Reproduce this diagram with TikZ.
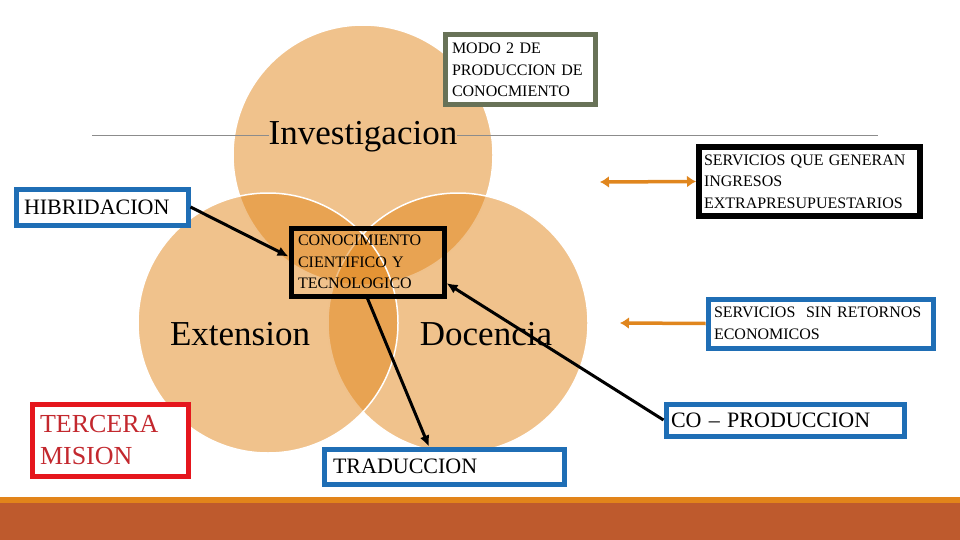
\documentclass[tikz,border=0pt]{standalone}
\usepackage{fontspec}
\setmainfont{Liberation Serif}
\usetikzlibrary{arrows.meta,positioning,calc}

\definecolor{ringfill}{HTML}{E18519}
\definecolor{modogreen}{HTML}{687257}
\definecolor{boxblue}{HTML}{1F6EB5}
\definecolor{boxred}{HTML}{E5161D}
\definecolor{textred}{HTML}{C3282E}
\definecolor{linkorange}{HTML}{E0861E}
\definecolor{barorange}{HTML}{E2841A}
\definecolor{barrust}{HTML}{BE5A2D}
\definecolor{rulegray}{HTML}{8C8C8C}

\begin{document}
\begin{tikzpicture}[
  x=1pt,y=-1pt,
  ring/.style={fill=ringfill, fill opacity=0.5, draw=white, line width=1.5pt},
  ringlabel/.style={font=\fontsize{35}{40}\selectfont, anchor=base, inner sep=0pt},
  tag/.style={draw, line width=5pt, fill=white, align=left, inner ysep=2pt},
  smalltag/.style={font=\fontsize{16}{21.5}\selectfont},
  bigtag/.style={font=\fontsize{22}{26}\selectfont},
  link/.style={-{Latex[length=11pt,width=10pt]}, draw=black, line width=3pt},
  orangelink/.style={draw=linkorange, line width=3.5pt},
  otip/.tip={Latex[length=9pt,width=12pt]},
  rule/.style={draw=rulegray, line width=1pt}
]
  \useasboundingbox (0,0) rectangle (960,540);

  % three rings
  \draw[ring] (363,155) circle[radius=130pt];
  \draw[ring] (458,323) circle[radius=130pt];
  \draw[ring] (268,323) circle[radius=130pt];

  \node[ringlabel] (inv) at (363,145) {Investigacion};
  \node[ringlabel] (ext) at (240,345) {Extension};
  \node[ringlabel] (doc) at (486,345) {Docencia};

  \coordinate (ruleL) at (92,136);
  \coordinate (ruleR) at (878,136);
  \draw[rule] (ruleL) -- (ruleL -| inv.west);
  \draw[rule] (inv.east |- ruleR) -- (ruleR);

  % boxes
  \node[tag, smalltag, draw=modogreen, text width=136pt, inner xsep=7pt, minimum height=70pt] (modo) at (520,70) {MODO 2 DE\\PRODUCCION DE\\CONOCMIENTO};
  \node[tag, bigtag, draw=boxblue, text width=156pt, inner xsep=8pt, minimum height=36pt] (hib) at (102,207) {HIBRIDACION};
  \node[tag, smalltag, draw=black, fill=none, text width=139pt, inner xsep=7pt, minimum height=68pt] (conoc) at (367.5,262) {CONOCIMIENTO\\CIENTIFICO Y\\TECNOLOGICO};
  \node[tag, smalltag, draw=black, line width=6pt, text width=211pt, inner xsep=5pt, minimum height=69pt] (ingresos) at (809.5,181.5) {SERVICIOS QUE GENERAN\\INGRESOS\\EXTRAPRESUPUESTARIOS};
  \node[tag, font=\fontsize{16}{22}\selectfont, draw=boxblue, text width=213pt, inner xsep=6pt, minimum height=49pt] (retornos) at (820.5,323.5) {SERVICIOS\ \ SIN RETORNOS\\ECONOMICOS};
  \node[tag, bigtag, draw=boxblue, text width=228pt, inner xsep=5pt, minimum height=32pt] (coprod) at (785,420) {CO -- PRODUCCION};
  \node[tag, bigtag, draw=boxblue, text width=222pt, inner xsep=9pt, minimum height=35pt] (trad) at (444,466.5) {TRADUCCION};
  \node[tag, font=\fontsize{26}{32}\selectfont, text=textred, draw=boxred, text width=140pt, inner xsep=8pt, minimum height=72pt] (tercera) at (110,440) {TERCERA\\MISION};

  % connectors
  \draw[link] (hib.east) -- (conoc.176);
  \draw[link] (conoc.south) -- (trad.127);
  \draw[link] (coprod.west) -- (conoc.-15);

  \coordinate (ingL) at (600,182);
  \coordinate (retL) at (620,323);
  \draw[orangelink, otip-otip] (ingL) -- (ingresos.west);
  \draw[orangelink, -otip] (retornos.west) -- (retL);

  % footer band
  \fill[barorange] (0,497) rectangle (960,503);
  \fill[barrust] (0,503) rectangle (960,540);
\end{tikzpicture}
\end{document}
